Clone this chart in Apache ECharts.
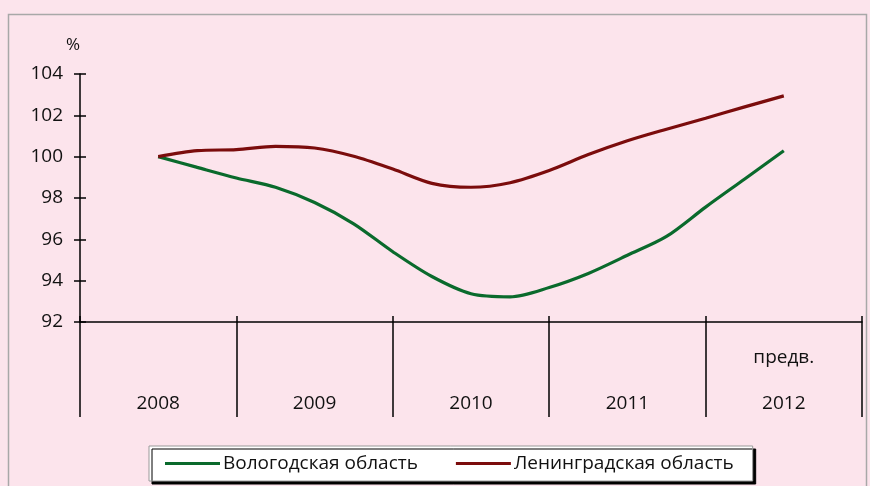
<!DOCTYPE html>
<html>
<head>
<meta charset="utf-8">
<script src="https://cdn.jsdelivr.net/npm/echarts@6/dist/echarts.min.js"></script>
<style>
  html, body { margin: 0; padding: 0; background: #fce4ec; }
  #main { width: 870px; height: 486px; }
</style>
</head>
<body>
<div id="main"></div>
<script>
// годы на оси и пометка над последним
const years = ['2008', '2009', '2010', '2011', '2012']
const yearNotes = ['', '', '', '', 'предв.']
const yTicks = [92, 94, 96, 98, 100, 102, 104]

// поквартальные значения, 2008 = 100
const vologda = [100, 99.48, 98.97, 98.52, 97.78, 96.75, 95.4, 94.2, 93.37,
  93.22, 93.67, 94.35, 95.23, 96.14, 97.56, 98.92, 100.29]
const leningrad = [100, 100.29, 100.34, 100.5, 100.42, 100.02, 99.4, 98.71, 98.52,
  98.74, 99.33, 100.1, 100.77, 101.33, 101.86, 102.41, 102.94]

const names = ['Вологодская область', 'Ленинградская область']
const colors = ['#0a6a2c', '#7b0c0c']

const FONT = 'Open Sans'

// квартал -> позиция на оси лет (0 = 2008)
const toPairs = (arr) => arr.map((v, i) => [i / 4, v])

const chart = echarts.init(document.getElementById('main'))

const option = {
  backgroundColor: '#fce4ec',
  animation: false,
  textStyle: { fontFamily: FONT },
  graphic: [
    {
      type: 'rect',
      shape: { x: 8.5, y: 14.5, width: 858, height: 480 },
      style: { fill: 'none', stroke: '#a8a8a8', lineWidth: 1.5 },
      silent: true
    }
  ],
  grid: { left: 80, right: 8, top: 74, bottom: 164 },
  legend: {
    left: 149,
    top: 446,
    padding: [8, 19, 8, 16],
    backgroundColor: '#ffffff',
    borderColor: '#9a9a9a',
    borderWidth: 1,
    shadowColor: '#000',
    shadowBlur: 0,
    shadowOffsetX: 3,
    shadowOffsetY: 3,
    icon: 'rect',
    itemWidth: 55,
    itemHeight: 3,
    itemGap: 38,
    textStyle: { fontFamily: FONT, fontSize: 19, color: '#111', padding: [0, 0, 0, -2] },
    data: names
  },
  xAxis: [
    {
      type: 'category',
      position: 'bottom',
      data: years,
      boundaryGap: true,
      axisLine: { onZero: false, lineStyle: { color: '#000', width: 1.5 } },
      axisTick: { show: true, length: 95, lineStyle: { color: '#000', width: 1.5 } },
      axisLabel: {
        fontFamily: FONT,
        fontSize: 19,
        color: '#111',
        margin: 24,
        lineHeight: 23,
        formatter: (v, i) => (yearNotes[i] || ' ') + '\n\n' + v
      },
      splitLine: { show: false }
    },
    {
      type: 'value',
      position: 'bottom',
      min: -0.5,
      max: 4.5,
      show: false
    },
    {
      type: 'category',
      position: 'bottom',
      data: years,
      boundaryGap: true,
      axisLine: { show: false, onZero: false },
      axisTick: { show: true, inside: true, length: 6, lineStyle: { color: '#000', width: 1.5 } },
      axisLabel: { show: false }
    }
  ],
  yAxis: [
    {
      type: 'value',
      position: 'left',
      min: yTicks[0],
      max: yTicks[yTicks.length - 1],
      interval: 2,
      name: '%',
      nameLocation: 'end',
      nameGap: 20,
      nameTextStyle: { fontFamily: FONT, fontSize: 17, color: '#111', padding: [0, 0, 0, -14] },
      axisLine: { show: true, onZero: false, lineStyle: { color: '#000', width: 1.5 } },
      axisTick: { show: true, length: 6, lineStyle: { color: '#000', width: 1.5 } },
      axisLabel: { fontFamily: FONT, fontSize: 19, color: '#111', margin: 17 },
      splitLine: { show: false }
    },
    {
      type: 'value',
      position: 'left',
      min: yTicks[0],
      max: yTicks[yTicks.length - 1],
      interval: 2,
      axisLine: { show: false, onZero: false },
      axisTick: { show: true, inside: true, length: 6, lineStyle: { color: '#000', width: 1.5 } },
      axisLabel: { show: false },
      splitLine: { show: false }
    }
  ],
  series: [
    {
      name: names[0],
      type: 'line',
      xAxisIndex: 1,
      smooth: 0.3,
      showSymbol: false,
      lineStyle: { color: colors[0], width: 3.2 },
      itemStyle: { color: colors[0] },
      data: toPairs(vologda)
    },
    {
      name: names[1],
      type: 'line',
      xAxisIndex: 1,
      smooth: 0.3,
      showSymbol: false,
      lineStyle: { color: colors[1], width: 3.2 },
      itemStyle: { color: colors[1] },
      data: toPairs(leningrad)
    }
  ]
}

chart.setOption(option)
</script>
</body>
</html>
